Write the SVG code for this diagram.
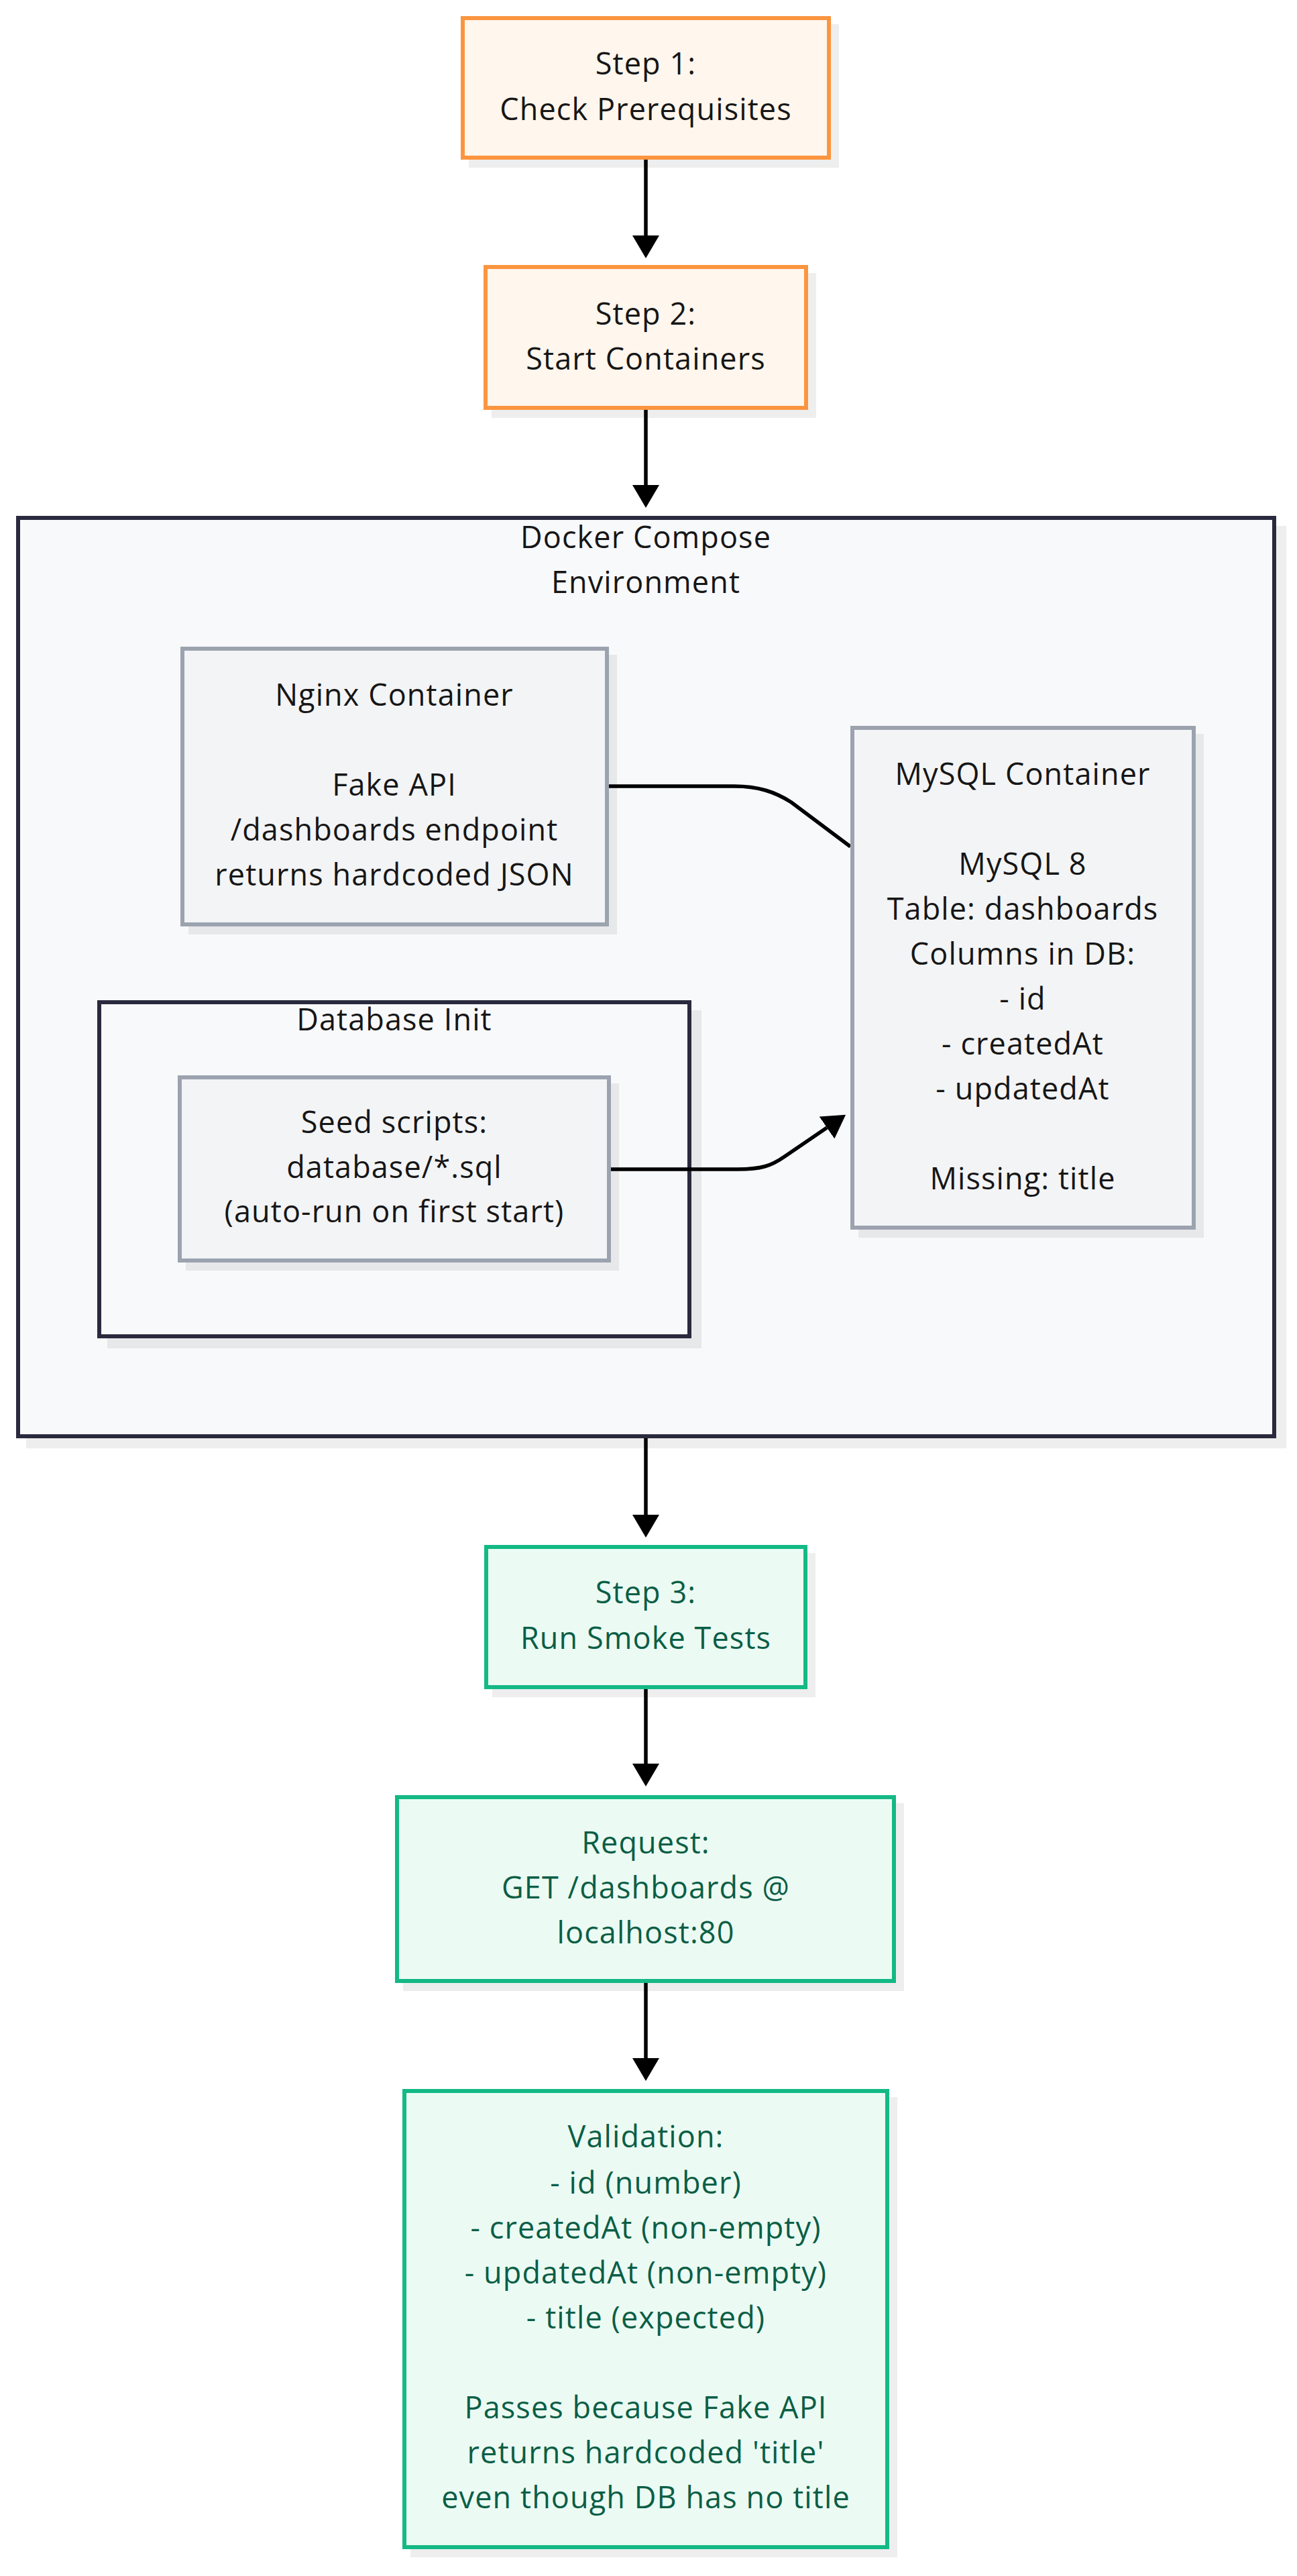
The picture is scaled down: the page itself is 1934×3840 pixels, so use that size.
<svg xmlns="http://www.w3.org/2000/svg" width="1934" height="3840" viewBox="0 0 1934 3840">
  <defs>
    <marker id="arrow" markerUnits="userSpaceOnUse" markerWidth="34" markerHeight="40" viewBox="0 0 34 40" refX="0" refY="20" orient="auto">
      <path d="M0,0 L34,20 L0,40 z" fill="#000"/>
    </marker>
    <style>
      .shadow { fill: #000; fill-opacity: 0.065; }
      .orange { fill: #fff6ed; stroke: #fb953f; stroke-width: 6; }
      .green { fill: #ebfbf3; stroke: #14b985; stroke-width: 6; }
      .gray { fill: #f3f4f6; stroke: #9ca3af; stroke-width: 6; }
      .cluster { fill: #f8f9fb; stroke: #2a2a3e; stroke-width: 6; }
      .edge { fill: none; stroke: #000; stroke-width: 5.5; }
      text { font-family: "Open Sans", "Noto Sans", "Liberation Sans", sans-serif; font-size: 45px; text-anchor: middle; letter-spacing: 1.1px; }
      .dark { fill: #161616; }
      .gtxt { fill: #0b5e46; }
    </style>
  </defs>

  <rect width="1934" height="3840" fill="#ffffff"/>

  <!-- Clusters -->
  <g id="cluster-docker">
    <rect class="shadow" x="39" y="784" width="1879" height="1375"/>
    <rect class="cluster" x="27" y="772" width="1873" height="1369"/>
    <text class="dark" x="963" y="817">Docker Compose</text>
    <text class="dark" x="963" y="884">Environment</text>
  </g>
  <g id="cluster-dbinit">
    <rect class="shadow" x="160" y="1506" width="886" height="504"/>
    <rect class="cluster" x="148" y="1494" width="880" height="498"/>
    <text class="dark" x="588" y="1536">Database Init</text>
  </g>

  <!-- Connectors -->
  <g id="connectors">
    <path class="edge" d="M963,237 L963,351" marker-end="url(#arrow)"/>
    <path class="edge" d="M963,611 L963,723" marker-end="url(#arrow)"/>
    <path class="edge" d="M908,1172 L1095,1172 C1130,1172 1155,1180 1180,1196 L1268,1262"/>
    <path class="edge" d="M911,1743 L1100,1743 C1135,1743 1150,1738 1170,1724 L1233,1681" marker-end="url(#arrow)"/>
    <path class="edge" d="M963,2144 L963,2258" marker-end="url(#arrow)"/>
    <path class="edge" d="M963,2518 L963,2629" marker-end="url(#arrow)"/>
    <path class="edge" d="M963,2956 L963,3068" marker-end="url(#arrow)"/>
  </g>

  <!-- Nodes -->
  <g id="step1">
    <rect class="shadow" x="699" y="36" width="552" height="214"/>
    <rect class="orange" x="690" y="27" width="546" height="208"/>
    <text class="dark" x="963" y="111">Step 1:</text>
    <text class="dark" x="963" y="179">Check Prerequisites</text>
  </g>

  <g id="step2">
    <rect class="shadow" x="733" y="407" width="484" height="216"/>
    <rect class="orange" x="724" y="398" width="478" height="210"/>
    <text class="dark" x="963" y="484">Step 2:</text>
    <text class="dark" x="963" y="551">Start Containers</text>
  </g>

  <g id="nginx">
    <rect class="shadow" x="281" y="976" width="639" height="417"/>
    <rect class="gray" x="272" y="967" width="633" height="411"/>
    <text class="dark" x="588" y="1052">Nginx Container</text>
    <text class="dark" x="588" y="1186">Fake API</text>
    <text class="dark" x="588" y="1253">/dashboards endpoint</text>
    <text class="dark" x="588" y="1320">returns hardcoded JSON</text>
  </g>

  <g id="mysql">
    <rect class="shadow" x="1280" y="1094" width="515" height="751"/>
    <rect class="gray" x="1271" y="1085" width="509" height="745"/>
    <text class="dark" x="1525" y="1170">MySQL Container</text>
    <text class="dark" x="1525" y="1304">MySQL 8</text>
    <text class="dark" x="1525" y="1371">Table: dashboards</text>
    <text class="dark" x="1525" y="1438">Columns in DB:</text>
    <text class="dark" x="1525" y="1505">- id</text>
    <text class="dark" x="1525" y="1572">- createdAt</text>
    <text class="dark" x="1525" y="1639">- updatedAt</text>
    <text class="dark" x="1525" y="1773">Missing: title</text>
  </g>

  <g id="seed">
    <rect class="shadow" x="277" y="1615" width="646" height="279"/>
    <rect class="gray" x="268" y="1606" width="640" height="273"/>
    <text class="dark" x="588" y="1689">Seed scripts:</text>
    <text class="dark" x="588" y="1756">database/*.sql</text>
    <text class="dark" x="588" y="1822">(auto-run on first start)</text>
  </g>

  <g id="step3">
    <rect class="shadow" x="734" y="2315" width="482" height="215"/>
    <rect class="green" x="725" y="2306" width="476" height="209"/>
    <text class="gtxt" x="963" y="2390">Step 3:</text>
    <text class="gtxt" x="963" y="2458">Run Smoke Tests</text>
  </g>

  <g id="request">
    <rect class="shadow" x="601" y="2688" width="747" height="280"/>
    <rect class="green" x="592" y="2679" width="741" height="274"/>
    <text class="gtxt" x="963" y="2763">Request:</text>
    <text class="gtxt" x="963" y="2830">GET /dashboards @</text>
    <text class="gtxt" x="963" y="2897">localhost:80</text>
  </g>

  <g id="validation">
    <rect class="shadow" x="612" y="3126" width="726" height="686"/>
    <rect class="green" x="603" y="3117" width="720" height="680"/>
    <text class="gtxt" x="963" y="3201">Validation:</text>
    <text class="gtxt" x="963" y="3270">- id (number)</text>
    <text class="gtxt" x="963" y="3337">- createdAt (non-empty)</text>
    <text class="gtxt" x="963" y="3404">- updatedAt (non-empty)</text>
    <text class="gtxt" x="963" y="3471">- title (expected)</text>
    <text class="gtxt" x="963" y="3605">Passes because Fake API</text>
    <text class="gtxt" x="963" y="3672">returns hardcoded 'title'</text>
    <text class="gtxt" x="963" y="3739">even though DB has no title</text>
  </g>
</svg>
